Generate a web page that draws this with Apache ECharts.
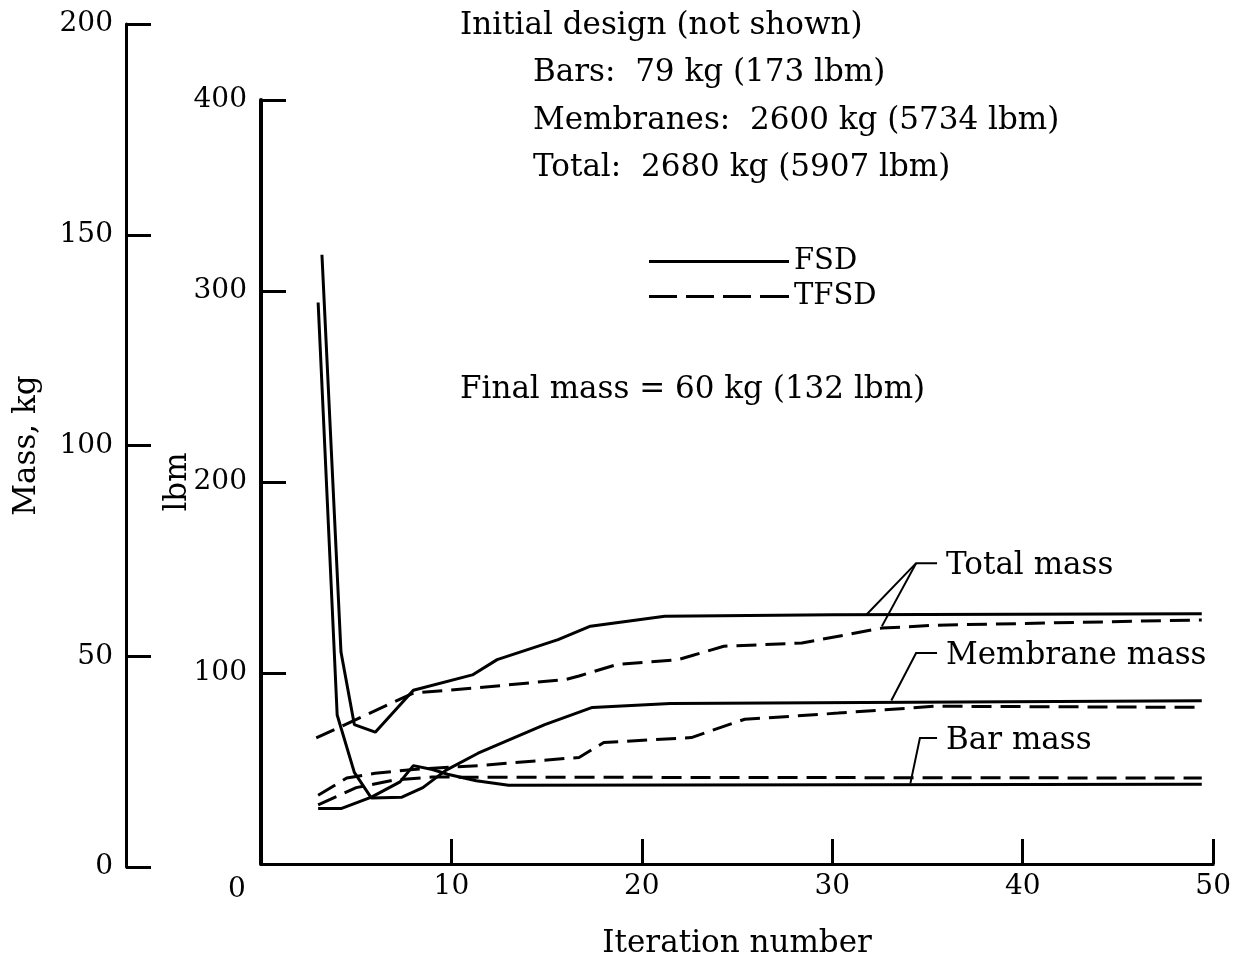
<!DOCTYPE html>
<html>
<head>
<meta charset="utf-8">
<script src="https://cdn.jsdelivr.net/npm/echarts@6/dist/echarts.min.js"></script>
<style>
  html, body { margin: 0; padding: 0; background: #fff; }
  #chart { width: 1234px; height: 964px; }
</style>
</head>
<body>
<div id="chart"></div>
<script>
// data: [iteration, mass in lbm]
const fsdTotal = [[3.2, 319], [4.2, 111], [4.9, 73], [6.0, 69], [8.0, 91], [11.1, 99], [12.4, 107], [15.6, 117.5], [17.3, 124.5], [21.2, 129.7], [30, 130.5], [49.4, 131]];
const fsdMembrane = [[3.0, 294], [4.0, 78], [4.9, 48], [5.8, 34.5], [7.4, 35], [8.5, 40], [9.7, 49], [11.4, 58], [14.9, 73], [17.4, 82], [21.5, 84], [49.4, 85.5]];
const fsdBar = [[3.0, 29], [4.2, 29], [5.8, 35], [7.3, 43], [8.0, 51.5], [9.0, 49.5], [9.8, 47], [11.3, 43.6], [13.0, 41.2], [49.4, 41.7]];
const tfsdTotal = [[2.9, 66], [8.0, 89.5], [11.4, 92.3], [16.0, 96.6], [16.7, 98.4], [18.7, 104.5], [21.9, 107], [22.6, 109], [24.3, 114], [28.4, 115.7], [32.6, 123.5], [35.4, 125], [49.4, 127.8]];
const tfsdMembrane = [[3.0, 36], [4.5, 45], [6.0, 47.5], [8.0, 49.5], [11.4, 51.5], [16.7, 55.8], [18.0, 63.6], [22.6, 66.2], [25.4, 75.8], [28.1, 77.5], [30.3, 79], [35.4, 82.6], [49.4, 82]];
const tfsdBar = [[3.0, 31], [5.0, 40], [7.0, 44], [9.0, 45.5], [49.4, 45]];

// axis ticks
const xTicks = [0, 10, 20, 30, 40, 50];
const lbmTicks = [0, 100, 200, 300, 400];
const kgTicks = [0, 50, 100, 150, 200];

// text blocks
const headerLines = [
  'Initial design (not shown)',
  'Bars:  79 kg (173 lbm)',
  'Membranes:  2600 kg (5734 lbm)',
  'Total:  2680 kg (5907 lbm)'
];
const finalNote = 'Final mass = 60 kg (132 lbm)';

const FONT = '"DejaVu Serif", "Liberation Serif", serif';
const BLACK = '#000';
const TXT = 31;

const chart = echarts.init(document.getElementById('chart'));

function line(name, data, dashed) {
  return {
    name: name,
    type: 'line',
    xAxisIndex: 0,
    yAxisIndex: 0,
    data: data,
    showSymbol: false,
    symbol: 'none',
    silent: true,
    lineStyle: { color: BLACK, width: 3, type: dashed ? [20, 9] : 'solid' },
    itemStyle: { color: BLACK }
  };
}

const axisLine = { show: true, lineStyle: { color: BLACK, width: 3 } };
const axisTick = { show: true, inside: true, length: 25, lineStyle: { color: BLACK, width: 3 } };
const labelStyle = { color: BLACK, fontFamily: FONT, fontSize: 28 };

const option = {
  backgroundColor: '#fff',
  animation: false,
  grid: [
    { left: 261, right: 16, top: 100, bottom: 97 },
    { left: 126, width: 10, top: 24, bottom: 97 }
  ],
  legend: {
    data: [
      { name: 'FSD', icon: 'path://M0,0h140v3h-140z' },
      { name: 'TFSD', icon: 'path://M0,0h28v3h-28zM37,0h28v3h-28zM74,0h28v3h-28zM111,0h29v3h-29z' }
    ],
    orient: 'vertical',
    left: 644,
    top: 242,
    itemWidth: 140,
    itemHeight: 3,
    itemGap: 6,
    textStyle: { color: BLACK, fontFamily: FONT, fontSize: 29, lineHeight: 29 },
    selectedMode: false
  },
  xAxis: [
    {
      type: 'value', gridIndex: 0,
      min: xTicks[0], max: xTicks[xTicks.length - 1], interval: 10,
      name: 'Iteration number', nameLocation: 'middle', nameGap: 64,
      nameTextStyle: { color: BLACK, fontFamily: FONT, fontSize: TXT },
      axisLine: axisLine, axisTick: axisTick,
      axisLabel: Object.assign({ margin: 9, showMinLabel: false }, labelStyle),
      splitLine: { show: false }
    },
    { type: 'value', gridIndex: 1, min: 0, max: 1, show: false }
  ],
  yAxis: [
    {
      type: 'value', gridIndex: 0,
      min: lbmTicks[0], max: lbmTicks[lbmTicks.length - 1], interval: 100,
      name: 'lbm', nameLocation: 'middle', nameGap: 68, nameMoveOverlap: false,
      nameTextStyle: { color: BLACK, fontFamily: FONT, fontSize: TXT },
      axisLine: { show: true, lineStyle: { color: BLACK, width: 4 } },
      axisTick: axisTick,
      axisLabel: Object.assign({ margin: 14, showMinLabel: false }, labelStyle),
      splitLine: { show: false }
    },
    {
      type: 'value', gridIndex: 1,
      min: kgTicks[0], max: kgTicks[kgTicks.length - 1], interval: 50,
      name: 'Mass, kg', nameLocation: 'middle', nameGap: 84,
      nameTextStyle: { color: BLACK, fontFamily: FONT, fontSize: TXT },
      axisLine: axisLine, axisTick: axisTick,
      axisLabel: Object.assign({ margin: 13 }, labelStyle),
      splitLine: { show: false }
    }
  ],
  series: [
    line('FSD', fsdTotal, false),
    line('FSD', fsdMembrane, false),
    line('FSD', fsdBar, false),
    line('TFSD', tfsdTotal, true),
    line('TFSD', tfsdMembrane, true),
    line('TFSD', tfsdBar, true)
  ]
};

chart.setOption(option);

// annotations: labels placed on the page, leader lines tied to the data
function px(p) { return chart.convertToPixel({ gridIndex: 0 }, p); }
function text(str, x, y, size, align) {
  return {
    type: 'text', x: x, y: y, silent: true,
    style: { text: str, fill: BLACK, font: size + 'px ' + FONT, align: align || 'left', verticalAlign: 'middle' }
  };
}
function leader(points) {
  return {
    type: 'polyline', silent: true,
    shape: { points: points.map(px) },
    style: { stroke: BLACK, lineWidth: 2, fill: null }
  };
}

const g = [];
g.push(text(headerLines[0], 460, 26, TXT));
g.push(text(headerLines[1], 533, 73, TXT));
g.push(text(headerLines[2], 533, 121, TXT));
g.push(text(headerLines[3], 533, 168, TXT));
g.push(text(finalNote, 460, 390, TXT));
g.push(text('0', 237, 890, 28, 'center'));

g.push(text('Total mass', 946, 566, TXT));
g.push(leader([[35.5, 157.5], [34.4, 157.5], [31.8, 130.6]]));
g.push(leader([[34.4, 157.5], [32.6, 124.4]]));
g.push(text('Membrane mass', 946, 656, TXT));
g.push(leader([[35.5, 110.5], [34.4, 110.5], [33.1, 85.6]]));
g.push(text('Bar mass', 946, 741, TXT));
g.push(leader([[35.5, 66], [34.6, 66], [34.1, 42.2]]));

chart.setOption({ graphic: g });
</script>
</body>
</html>
